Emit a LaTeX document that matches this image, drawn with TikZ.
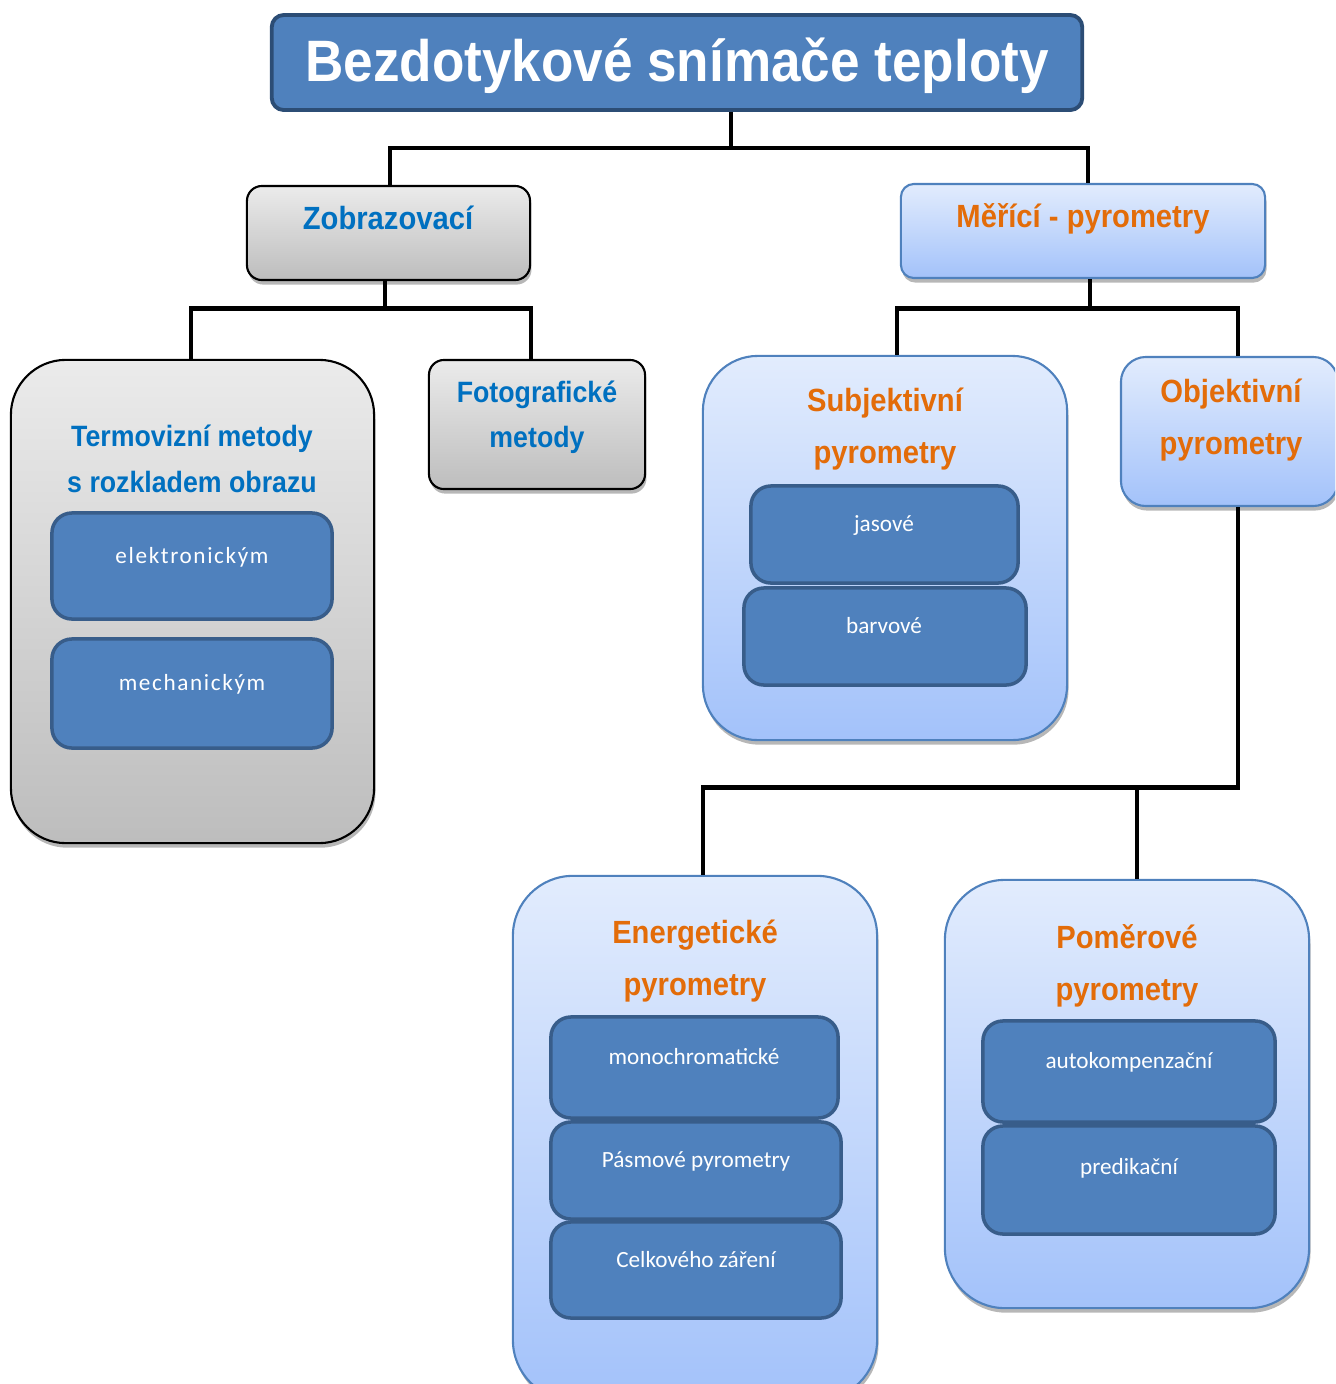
\documentclass[tikz,border=0pt]{standalone}
\usepackage{fontspec}
\setmainfont{Liberation Sans}
\newfontfamily\calfont{Carlito}
\newfontfamily\calspaced{Carlito}[LetterSpace=7]
\usetikzlibrary{positioning, shadows}

\definecolor{titleblue}{HTML}{4F81BD}
\definecolor{titleedge}{HTML}{2C4D75}
\definecolor{inedge}{HTML}{385D8A}
\definecolor{headblue}{HTML}{0070C0}
\definecolor{headorange}{HTML}{E36C09}
\definecolor{grayhi}{HTML}{EBEBEB}
\definecolor{graylo}{HTML}{BDBDBD}
\definecolor{bluehi}{HTML}{E2ECFD}
\definecolor{bluelo}{HTML}{A3C2FA}

% headings are a little taller than the font
\newcommand{\tall}[1]{\scalebox{1}[1.1]{#1}}

\tikzset{
  boxshadow/.style={drop shadow={shadow xshift=0.4pt, shadow yshift=-1.3pt, opacity=0.4, fill=black!70}},
  graybox/.style={draw=black, line width=0.6pt, top color=grayhi, bottom color=graylo, inner sep=0pt, boxshadow},
  bluebox/.style={draw=titleblue, line width=0.6pt, top color=bluehi, bottom color=bluelo, inner sep=0pt, boxshadow},
  inbox/.style={draw=inedge, line width=1pt, fill=titleblue, rounded corners=0.2cm, inner sep=0pt},
  bluehead/.style={text=headblue, font=\bfseries\fontsize{7.6}{13}\selectfont, align=center},
  orangehead/.style={text=headorange, font=\bfseries\fontsize{8.3}{14.6}\selectfont, align=center},
  intext/.style={text=white, font=\calfont\fontsize{6.6}{8}\selectfont},
  conn/.style={line width=1.4pt, black},
}

\begin{document}
\begin{tikzpicture}[x=0.01cm, y=-0.01cm]
\clip (0,0) rectangle (1335,1384);

% title
\node[draw=titleedge, line width=1.1pt, fill=titleblue, rounded corners=0.12cm,
      minimum width=8.1cm, minimum height=0.95cm, inner sep=0pt] (title) at (677,62.5) {};
\node[text=white, font=\bfseries\fontsize{15.1}{18}\selectfont] (title-text) at (677,66) {\tall{Bezdotykové snímače teploty}};

% first level
\node[graybox, rounded corners=0.15cm, minimum width=2.83cm, minimum height=0.94cm] (zob) at (388.5,233) {};
\node[bluehead, font=\bfseries\fontsize{8.3}{10}\selectfont] (zob-text) at (388,218) {\tall{Zobrazovací}};

\node[bluebox, rounded corners=0.13cm, minimum width=3.64cm, minimum height=0.94cm] (mer) at (1083,231) {};
\node[orangehead] (mer-text) at (1083,219) {\tall{Měřící - pyrometry}};

% zobrazovaci
\node[graybox, rounded corners=0.55cm, minimum width=3.63cm, minimum height=4.83cm] (termo) at (192.5,601.5) {};
\node[bluehead] (termo-text) at (192,459) {\tall{Termovizní metody}\\\tall{s rozkladem obrazu}};
\node[inbox, minimum width=2.8cm, minimum height=1.06cm] (elek) at (192,566) {};
\node[intext, font=\calspaced\fontsize{6.6}{8}\selectfont] (elek-text) at (192,557) {elektronickým};
\node[inbox, minimum width=2.8cm, minimum height=1.09cm] (mech) at (192,693.5) {};
\node[intext, font=\calspaced\fontsize{6.6}{8}\selectfont] (mech-text) at (192,684) {mechanickým};

\node[graybox, rounded corners=0.15cm, minimum width=2.16cm, minimum height=1.29cm] (foto) at (537,424.5) {};
\node[bluehead, font=\bfseries\fontsize{7.6}{12.8}\selectfont] (foto-text) at (537,417) {\tall{Fotografické}\\\tall{metody}};

% merici
\node[bluebox, rounded corners=0.55cm, minimum width=3.64cm, minimum height=3.84cm] (subj) at (885,548) {};
\node[orangehead] (subj-text) at (885,429) {\tall{Subjektivní}\\\tall{pyrometry}};
\node[inbox, minimum width=2.67cm, minimum height=0.97cm] (jas) at (884.5,534.5) {};
\node[intext] (jas-text) at (884,525) {jasové};
\node[inbox, minimum width=2.82cm, minimum height=0.97cm] (barv) at (885,636.5) {};
\node[intext] (barv-text) at (884,626) {barvové};

\node[bluebox, rounded corners=0.25cm, minimum width=2.17cm, minimum height=1.49cm] (obj) at (1229.5,431.5) {};
\node[orangehead] (obj-text) at (1231,420) {\tall{Objektivní}\\\tall{pyrometry}};

% objektivni
\node[bluebox, rounded corners=0.6cm, minimum width=3.64cm, minimum height=5.24cm] (energ) at (695,1138) {};
\node[orangehead] (energ-text) at (695,961) {\tall{Energetické}\\\tall{pyrometry}};
\node[inbox, minimum width=2.87cm, minimum height=1.01cm] (mono) at (694.5,1067.5) {};
\node[intext] (mono-text) at (694,1057) {monochromatické};
\node[inbox, minimum width=2.9cm, minimum height=0.97cm] (pasm) at (696,1170.5) {};
\node[intext] (pasm-text) at (696,1161) {Pásmové pyrometry};
\node[inbox, minimum width=2.9cm, minimum height=0.96cm] (celk) at (696,1270) {};
\node[intext] (celk-text) at (696,1260) {Celkového záření};

\node[bluebox, rounded corners=0.6cm, minimum width=3.64cm, minimum height=4.28cm] (pomer) at (1127,1094) {};
\node[orangehead] (pomer-text) at (1127,966) {\tall{Poměrové}\\\tall{pyrometry}};
\node[inbox, minimum width=2.92cm, minimum height=1.01cm] (auto) at (1129,1071.5) {};
\node[intext] (auto-text) at (1129,1062) {autokompenzační};
\node[inbox, minimum width=2.92cm, minimum height=1.08cm] (pred) at (1129,1180) {};
\node[intext] (pred-text) at (1129,1168) {predikační};

% connectors
\draw[conn] ([xshift=0.54cm]title.south) -- ++(0,36) coordinate (j-top);
\draw[conn] ([xshift=0.015cm]zob.north) |- (j-top) -| ([xshift=0.05cm]mer.north);

\draw[conn] ([xshift=-0.035cm]zob.south) -- ++(0,27) coordinate (j-zob);
\draw[conn] ([xshift=-0.015cm]termo.north) |- (j-zob) -| ([xshift=-0.06cm]foto.north);

\draw[conn] ([xshift=0.07cm]mer.south) -- ++(0,29) coordinate (j-mer);
\draw[conn] ([xshift=0.12cm]subj.north) |- (j-mer) -| ([xshift=0.085cm]obj.north);

\draw[conn] ([xshift=0.085cm]obj.south) -- ++(0,280) -| ([xshift=0.08cm]energ.north);
\draw[conn] ([xshift=0.1cm]pomer.north) -- ++(0,-94);

\end{tikzpicture}
\end{document}
